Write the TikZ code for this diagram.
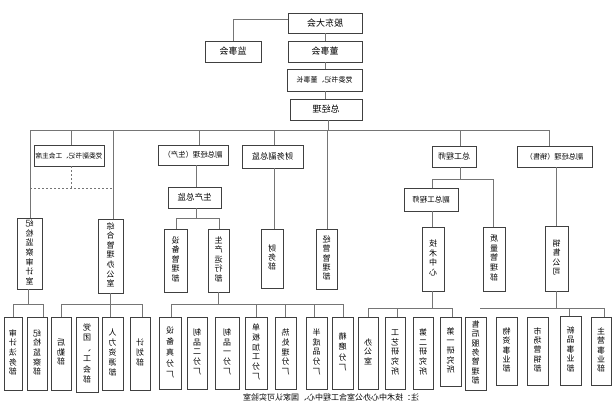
\documentclass[tikz,border=0pt]{standalone}
\usepackage{fontspec}
\setmainfont{Noto Sans CJK SC}
\definecolor{boxc}{HTML}{404040}
\definecolor{linec}{HTML}{757575}
\tikzset{
  box/.style={draw=boxc, line width=0.8pt, inner sep=0pt, fill=white, font=\fontsize{9}{10}\selectfont},
  vbox/.style={box, font=\fontsize{8}{9.5}\selectfont},
  ln/.style={draw=linec, line width=0.9pt},
  dl/.style={draw=linec, line width=0.6pt, dash pattern=on 2pt off 2pt},
}
\newcommand\hb[1]{\reflectbox{#1}}
\newcommand\vb[2][1]{\reflectbox{\def\arraystretch{#1}\begin{tabular}{@{}c@{}}#2\end{tabular}}}
% \bx[opts]{name}{x1}{y1}{x2}{y2}{text}
\newcommand\bx[7][]{\node[box,minimum width={(#5-#3)*1pt},minimum height={(#6-#4)*1pt},#1] (#2) at ({(#3+#5)/2},{(#4+#6)/2}) {#7};}
\begin{document}
\begin{tikzpicture}[x=1pt,y=-1pt]
\useasboundingbox[fill=white] (0,0) rectangle (616,410);
% ---- top
\bx{gddh}{288}{13}{362}{33}{\hb{股东大会}}
\bx{jsh}{205}{41}{261}{62}{\hb{监事会}}
\bx{dsh}{288}{41}{362}{62}{\hb{董事会}}
\bx[font=\fontsize{7}{8}\selectfont]{dwsj}{287}{69}{362}{91}{\hb{党委书记、董事长}}
\bx{zjl}{290}{99}{362}{120}{\hb{总经理}}
% ---- level 2
\bx[font=\fontsize{6.7}{8}\selectfont]{fsj}{34}{145}{104}{166}{\hb{党委副书记、工会主席}}
\bx[vbox]{jjs}{17}{218}{42}{289}{\vb[1]{纪\\检\\监\\察\\审\\计\\室}}
\bx[vbox]{zhb}{98}{219}{123}{293}{\vb[1]{综\\合\\管\\理\\办\\公\\室}}
\bx[font=\fontsize{7.4}{8}\selectfont]{fzs}{158}{145}{228}{165}{\hb{副总经理（生产）}}
\bx[font=\fontsize{8.5}{9}\selectfont]{sczj}{168}{187}{221}{208}{\hb{生产总监}}
\bx[vbox]{sbgl}{164}{229}{187}{292}{\vb[1]{设\\备\\管\\理\\部}}
\bx[vbox]{scyx}{208}{229}{229}{292}{\vb[1]{生\\产\\运\\行\\部}}
\bx[font=\fontsize{8.2}{9}\selectfont]{cwfz}{242}{145}{303}{168}{\hb{财务副总监}}
\bx[vbox]{cwb}{261}{229}{283}{288}{\vb[0.95]{财\\务\\部}}
\bx[vbox]{jygl}{316}{229}{337}{289}{\vb[0.95]{经\\营\\管\\理\\部}}
\bx[font=\fontsize{8}{9}\selectfont]{zgcs}{432}{146}{476}{167}{\hb{总工程师}}
\bx[font=\fontsize{7.5}{9}\selectfont]{fzg}{404}{188}{458}{211}{\hb{副总工程师}}
\bx[vbox]{zlgl}{483}{227}{505}{291}{\vb[1.05]{质\\量\\管\\理\\部}}
\bx[vbox]{jszx}{422}{227}{444}{291}{\vb[1.05]{技\\术\\中\\心}}
\bx[font=\fontsize{7.2}{8}\selectfont]{fzx}{517}{146}{592}{167}{\hb{副总经理（销售）}}
\bx[vbox]{xsgs}{545}{226}{568}{291}{\vb[1]{销\\售\\公\\司}}
% ---- bottom row
\bx[vbox]{g1}{4}{317}{22}{390}{\vb[1]{审\\计\\法\\务\\部}}
\bx[vbox]{g2}{27}{317}{47}{390}{\vb[1]{纪\\检\\监\\察\\部}}
\bx[vbox]{g3}{51}{317}{71}{390}{\vb[1]{后\\勤\\部}}
\bx[vbox]{g4}{76}{317}{98}{392}{\vb[1.1]{党\\团\\、\\工\\会\\部}}
\bx[vbox]{g5}{102}{317}{123}{390}{\vb[1.03]{人\\力\\资\\源\\部}}
\bx[vbox]{g6}{130}{317}{150}{390}{\vb[1]{计\\划\\部}}
\bx[vbox]{p1}{159}{317}{181}{389}{\vb[1.15]{设\\备\\真\\分\\厂}}
\bx[vbox]{p2}{187}{317}{207}{389}{\vb[1.02]{制\\品\\二\\分\\厂}}
\bx[vbox]{p3}{215}{317}{239}{389}{\vb[1.02]{制\\品\\一\\分\\厂}}
\bx[vbox]{p4}{245}{317}{267}{389}{\vb[1.02]{单\\板\\加\\工\\分\\厂}}
\bx[vbox]{p5}{275}{317}{296}{389}{\vb[1.05]{热\\处\\理\\分\\厂}}
\bx[vbox]{p6}{306}{317}{327}{389}{\vb[1.02]{半\\成\\品\\分\\厂}}
\bx[vbox]{p7}{332}{317}{353}{389}{\vb[1.1]{精\\磨\\分\\厂}}
\bx[vbox]{t1}{358}{317}{378}{389}{\vb[1]{办\\公\\室}}
\bx[vbox]{t2}{385}{317}{405}{389}{\vb[1.02]{工\\艺\\研\\究\\所}}
\bx[vbox]{t3}{413}{317}{433}{389}{\vb[1]{第\\二\\研\\究\\所}}
\bx[vbox]{t4}{440}{317}{461}{386}{\vb[1]{第\\一\\研\\究\\所}}
\bx[vbox]{s1}{465}{317}{486}{390}{\vb[0.95]{售\\后\\服\\务\\管\\理\\部}}
\bx[vbox]{s2}{496}{317}{517}{385}{\vb[0.95]{物\\资\\事\\业\\部}}
\bx[vbox]{s3}{527}{317}{548}{385}{\vb[0.95]{市\\场\\营\\销\\部}}
\bx[vbox]{s4}{560}{316}{581}{385}{\vb[0.95]{新\\品\\事\\业\\部}}
\bx[vbox]{s5}{591}{317}{611}{385}{\vb[0.95]{主\\营\\事\\业\\部}}
% ---- caption
\node[font=\fontsize{8}{9}\selectfont, inner sep=0pt] (cap) at (331,397) {\hb{注：技术中心办公室含工程中心、国家认可实验室}};
% ---- connectors top
\draw[ln] ([yshift=4pt]gddh.west) -| (jsh.north);
\draw[ln] (gddh.south) -- (dsh.north);
\draw[ln] (dsh.south) -- (dwsj.north -| dsh.south);
\draw[ln] (dwsj.south -| dsh.south) -- (zjl.north -| dsh.south);
\coordinate (busL) at (30,130);
\coordinate (busR) at (549,130);
\draw[ln] ([xshift=2pt]zjl.south) -- ([xshift=2pt]zjl.south |- busL);
\draw[ln] (busL) -- (busR);
% ---- drops from bus
\draw[ln] (busL) -- (busL |- jjs.north);
\draw[ln] (71,130) coordinate (d2) -- (d2 |- fsj.north);
\draw[ln] (113,130) coordinate (d3) -- (d3 |- zhb.north);
\draw[ln] (199,130) coordinate (d4) -- (d4 |- fzs.north);
\draw[ln] (274,130) coordinate (d5) -- (d5 |- cwfz.north);
\draw[ln] (327,130) coordinate (d6) -- (d6 |- jygl.north);
\draw[ln] (460,130) coordinate (d7) -- (d7 |- zgcs.north);
\draw[ln] (busR) -- (busR |- fzx.north);
% dashed link
\coordinate (dsL) at (30,188);
\coordinate (dsR) at (113,188);
\draw[dl] (d2 |- fsj.south) -- (d2 |- dsL);
\draw[dl] (dsL) -- (dsR);
% ---- production branch
\draw[ln] (196,165) coordinate (e1) -- (e1 |- sczj.north);
\coordinate (pL) at (176,218);
\coordinate (pR) at (219,218);
\draw[ln] (e1 |- sczj.south) -- (e1 |- pL);
\draw[ln] (pL |- sbgl.north) -- (pL) -- (pR) -- (pR |- scyx.north);
% ---- finance
\draw[ln] (d5 |- cwfz.south) -- (d5 |- cwb.north);
% ---- chief engineer
\coordinate (eL) at (432,179);
\coordinate (eR) at (493,179);
\draw[ln] (d7 |- zgcs.south) -- (d7 |- eL);
\draw[ln] (eL |- fzg.north) -- (eL) -- (eR) -- (eR |- zlgl.north);
\draw[ln] (eL |- fzg.south) -- (eL |- jszx.north);
% ---- sales
\draw[ln] (556,167) coordinate (f1) -- (f1 |- xsgs.north);
% ---- bottom: discipline
\coordinate (gL) at (13,304);
\coordinate (gR) at (43,304);
\draw[ln] (28,289) coordinate (h1) -- (h1 |- gL);
\draw[ln] (gL |- g1.north) -- (gL) -- (gR) -- (gR |- g2.north);
% ---- bottom: admin
\coordinate (aL) at (61,304);
\coordinate (aR) at (142,304);
\draw[ln] (110,293) coordinate (h2) -- (h2 |- g5.north);
\draw[ln] (aL |- g3.north) -- (aL) -- (aR) -- (aR |- g6.north);
% ---- bottom: production plants
\coordinate (qL) at (171,304);
\coordinate (qR) at (343,304);
\draw[ln] (218,292) coordinate (h3) -- (h3 |- qL);
\draw[ln] (qL |- p1.north) -- (qL) -- (qR) -- (qR |- p7.north);
\draw[ln] (256,304) coordinate (q4) -- (q4 |- p4.north);
\draw[ln] (285,304) coordinate (q5) -- (q5 |- p5.north);
\draw[ln] (314,304) coordinate (q6) -- (q6 |- p6.north);
% ---- bottom: technology
\coordinate (rL) at (368,308);
\coordinate (rR) at (452,308);
\draw[ln] (eL |- jszx.south) -- (eL |- rL);
\draw[ln] (rL |- t1.north) -- (rL) -- (rR) -- (rR |- t4.north);
\draw[ln] (397,308) coordinate (r2) -- (r2 |- t2.north);
% ---- bottom: sales
\coordinate (sL) at (480,308);
\coordinate (sR) at (604,308);
\draw[ln] (f1 |- xsgs.south) -- (f1 |- sL);
\draw[ln] (sL) -- (sR) -- (sR |- s5.north);
\draw[ln] (569,308) coordinate (s4d) -- (s4d |- s4.north);
\end{tikzpicture}
\end{document}
